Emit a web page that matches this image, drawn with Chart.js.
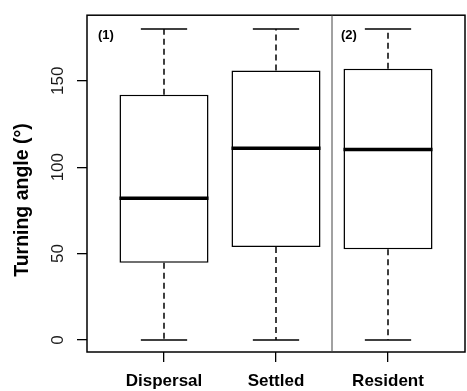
<!DOCTYPE html>
<html>
<head>
<meta charset="utf-8">
<script src="https://cdn.jsdelivr.net/npm/chart.js@4/dist/chart.umd.min.js"></script>
<style>
  html, body { margin: 0; padding: 0; background: #fff; }
  #wrap { width: 467px; height: 391px; position: relative; }
</style>
</head>
<body>
<div id="wrap"><canvas id="chart"></canvas></div>
<script>
const GROUPS = ['Dispersal', 'Settled', 'Resident'];
const WHISKER_LOW = [0, 0, 0];
const Q1 = [44.7, 53.8, 52.5];
const MEDIAN = [82, 111, 110.2];
const Q3 = [142, 156, 157];
const WHISKER_HIGH = [180, 180, 180];
const Y_TICKS = [0, 50, 100, 150];
const SEPARATOR = 2.5;
const PANEL_LABELS = ['(1)', '(2)'];
const Y_TITLE = 'Turning angle (°)';

const FONT = "'Liberation Sans', Arial, sans-serif";

function line(ctx, x1, y1, x2, y2) {
  ctx.beginPath();
  ctx.moveTo(x1, y1);
  ctx.lineTo(x2, y2);
  ctx.stroke();
}

// whiskers, caps, medians, frame, panel split and y title
const boxExtras = {
  id: 'boxExtras',
  afterDatasetsDraw(chart) {
    const { ctx, chartArea, scales: { x, y } } = chart;
    const meta = chart.getDatasetMeta(0);
    ctx.save();
    ctx.strokeStyle = '#000';
    meta.data.forEach((bar, i) => {
      const cx = bar.x;
      const w = bar.width;
      const yLo = y.getPixelForValue(WHISKER_LOW[i]);
      const yHi = y.getPixelForValue(WHISKER_HIGH[i]);
      const yQ1 = y.getPixelForValue(Q1[i]);
      const yQ3 = y.getPixelForValue(Q3[i]);
      const yMed = y.getPixelForValue(MEDIAN[i]);

      ctx.lineWidth = 1.5;
      ctx.setLineDash([6, 4]);
      line(ctx, cx, yQ3, cx, yHi);
      line(ctx, cx, yQ1, cx, yLo);
      ctx.setLineDash([]);
      line(ctx, cx - w * 0.26, yHi, cx + w * 0.26, yHi);
      line(ctx, cx - w * 0.26, yLo, cx + w * 0.26, yLo);

      ctx.lineWidth = 3.5;
      line(ctx, cx - w / 2, yMed, cx + w / 2, yMed);
    });

    ctx.lineWidth = 1.5;
    ctx.strokeRect(chartArea.left, chartArea.top, chartArea.right - chartArea.left, chartArea.bottom - chartArea.top);

    const sx = x.getPixelForValue(SEPARATOR);
    ctx.lineWidth = 1;
    ctx.strokeStyle = '#444';
    line(ctx, sx, chartArea.top, sx, chartArea.bottom);

    ctx.fillStyle = '#000';
    ctx.font = 'bold 13px ' + FONT;
    ctx.textBaseline = 'middle';
    ctx.textAlign = 'left';
    ctx.fillText(PANEL_LABELS[0], chartArea.left + 11, chartArea.top + 20);
    ctx.fillText(PANEL_LABELS[1], sx + 9, chartArea.top + 20);

    // R puts the y label a bit below the plot centre here
    ctx.translate(23, 200);
    ctx.rotate(-Math.PI / 2);
    ctx.textAlign = 'center';
    ctx.font = 'bold 19.5px ' + FONT;
    ctx.fillText(Y_TITLE, 0, 0);
    ctx.restore();
  }
};

new Chart(document.getElementById('chart'), {
  type: 'bar',
  data: {
    datasets: [{
      data: GROUPS.map((g, i) => ({ x: i + 1, y: [Q1[i], Q3[i]] })),
      backgroundColor: '#fff',
      borderColor: '#000',
      borderWidth: 1.5,
      borderSkipped: false,
      categoryPercentage: 1,
      barPercentage: 0.795,
    }],
  },
  options: {
    responsive: true,
    maintainAspectRatio: false,
    animation: false,
    layout: { padding: { left: 0, top: 8, right: 2, bottom: 0 } },
    plugins: {
      legend: { display: false },
      tooltip: { enabled: false },
    },
    scales: {
      x: {
        type: 'linear',
        min: 0.3125,
        max: 3.6875,
        offset: false,
        afterBuildTicks: (scale) => { scale.ticks = GROUPS.map((g, i) => ({ value: i + 1 })); },
        afterFit: (scale) => { scale.height = 39; },
        grid: { drawOnChartArea: false, offset: false, tickLength: 10, color: '#000', lineWidth: 1.3 },
        border: { display: false },
        ticks: {
          autoSkip: false,
          maxRotation: 0,
          padding: 9,
          color: '#000',
          font: { family: FONT, size: 17, weight: 'bold' },
          callback: (v) => GROUPS[v - 1],
        },
      },
      y: {
        min: -7,
        max: 188,
        afterBuildTicks: (scale) => { scale.ticks = Y_TICKS.map(v => ({ value: v })); },
        afterFit: (scale) => { scale.width = 87; },
        grid: { drawOnChartArea: false, tickLength: 10, color: '#000', lineWidth: 1.3 },
        border: { display: false },
        ticks: {
          minRotation: 90,
          maxRotation: 90,
          crossAlign: 'center',
          padding: 5,
          color: '#1a1a1a',
          font: { family: FONT, size: 17 },
        },
      },
    },
  },
  plugins: [boxExtras],
});
</script>
</body>
</html>
